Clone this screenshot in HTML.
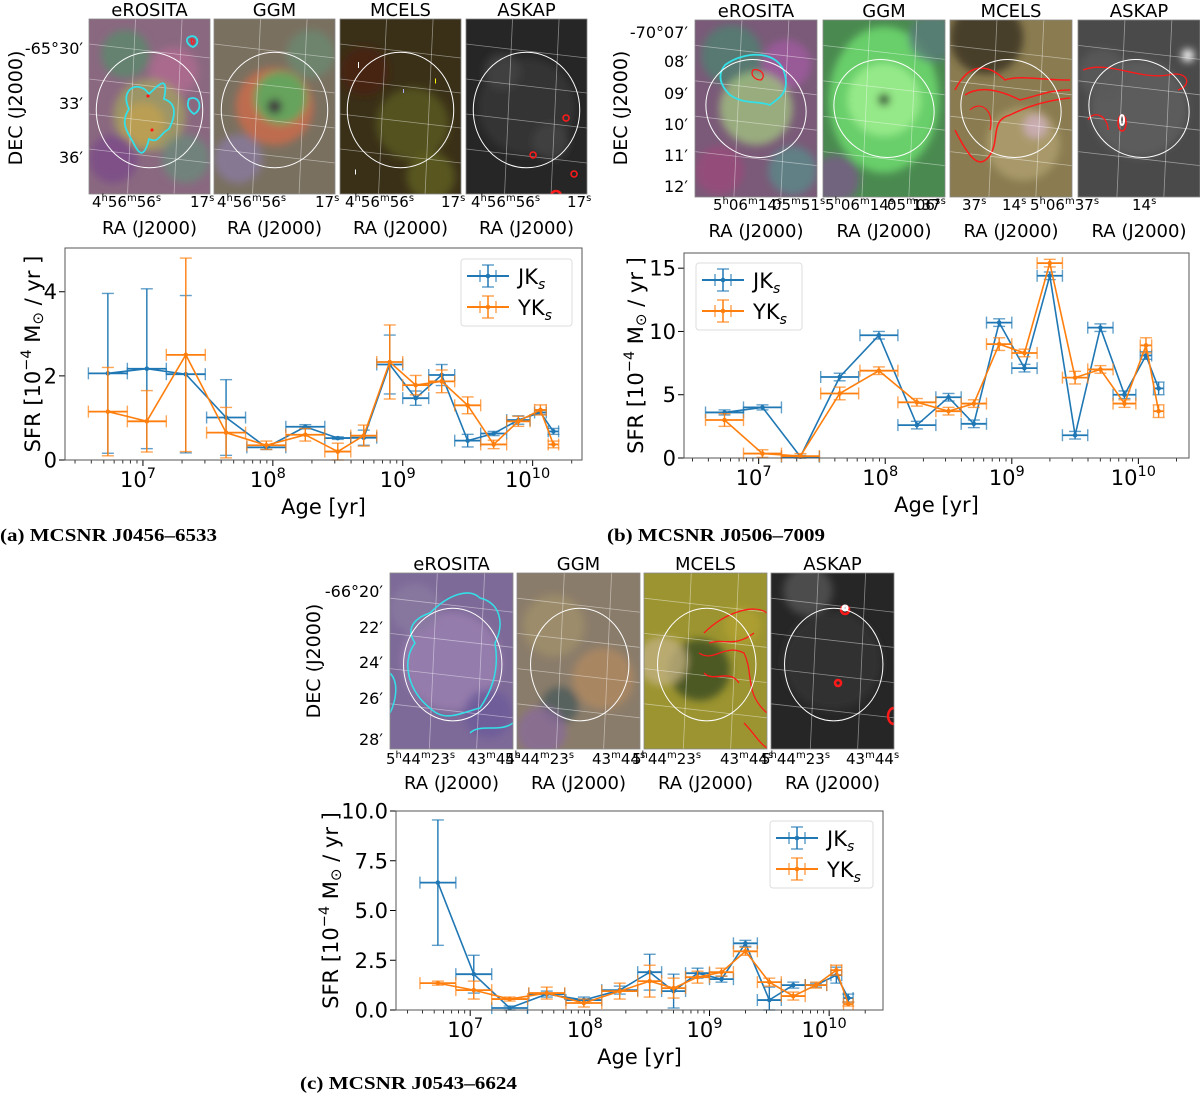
<!DOCTYPE html>
<html><head><meta charset="utf-8">
<style>
html,body{margin:0;padding:0;background:#fff;}
svg{display:block;font-family:"DejaVu Sans","Liberation Sans",sans-serif;}
</style></head>
<body>
<svg id="fig" width="1200" height="1098" viewBox="0 0 1200 1098" xmlns="http://www.w3.org/2000/svg">
<defs>
<filter id="blur3" x="-50%" y="-50%" width="200%" height="200%"><feGaussianBlur stdDeviation="4"/></filter>
</defs>
<g id="images"></g>
<g id="charts"></g>
<text x="0" y="541" font-family="Liberation Serif, serif" font-weight="bold" font-size="18" textLength="217" lengthAdjust="spacingAndGlyphs">(a) MCSNR J0456–6533</text>
<text x="607" y="541" font-family="Liberation Serif, serif" font-weight="bold" font-size="18" textLength="218" lengthAdjust="spacingAndGlyphs">(b) MCSNR J0506–7009</text>
<text x="300" y="1089" font-family="Liberation Serif, serif" font-weight="bold" font-size="18" textLength="217" lengthAdjust="spacingAndGlyphs">(c) MCSNR J0543–6624</text>
</svg>
<script>
// ---- chart data (log10 age bins shared by all panels) ----
const ageLog = [6.73, 7.03, 7.33, 7.64, 7.95, 8.25, 8.50, 8.70, 8.90, 9.10, 9.30, 9.50, 9.70, 9.89, 10.06, 10.16];
const ageErr = [0.15, 0.15, 0.15, 0.15, 0.15, 0.15, 0.10, 0.10, 0.10, 0.10, 0.10, 0.10, 0.10, 0.09, 0.045, 0.04];
const xTickLabels = ["7", "8", "9", "10"];

const aBlue = [2.06, 2.17, 2.04, 1.01, 0.30, 0.79, 0.52, 0.53, 2.27, 1.47, 2.02, 0.46, 0.63, 0.95, 1.13, 0.68];
const aBlueErr = [1.90, 1.90, 1.87, 0.90, 0.05, 0.05, 0.03, 0.18, 0.70, 0.17, 0.25, 0.15, 0.05, 0.10, 0.05, 0.07];
const aOrange = [1.15, 0.92, 2.50, 0.65, 0.35, 0.60, 0.20, 0.58, 2.33, 1.78, 1.87, 1.30, 0.37, 0.92, 1.19, 0.37];
const aOrangeErr = [1.05, 0.73, 2.30, 0.60, 0.10, 0.15, 0.20, 0.25, 0.88, 0.23, 0.27, 0.20, 0.10, 0.12, 0.12, 0.08];
const aYTicks = [0, 2, 4];

const bBlue = [3.6, 4.0, 0.1, 6.4, 9.7, 2.6, 4.8, 2.7, 10.7, 7.1, 14.4, 1.8, 10.3, 5.0, 8.1, 5.5];
const bBlueErr = [0.2, 0.2, 0.1, 0.3, 0.3, 0.3, 0.3, 0.3, 0.3, 0.3, 0.3, 0.3, 0.3, 0.3, 0.3, 0.5];
const bOrange = [3.0, 0.35, 0.15, 5.1, 6.9, 4.4, 3.7, 4.3, 9.0, 8.3, 15.4, 6.35, 7.0, 4.3, 8.9, 3.7];
const bOrangeErr = [0.5, 0.3, 0.2, 0.5, 0.3, 0.3, 0.3, 0.3, 0.5, 0.3, 0.3, 0.5, 0.3, 0.3, 0.6, 0.5];
const bYTicks = [0, 5, 10, 15];

const cBlue = [6.4, 1.8, 0.1, 0.8, 0.5, 1.0, 1.9, 0.95, 1.85, 1.55, 3.35, 0.5, 1.25, 1.25, 1.75, 0.6];
const cBlueErr = [3.15, 0.95, 0.1, 0.15, 0.15, 0.2, 0.9, 0.85, 0.25, 0.15, 0.15, 0.65, 0.15, 0.1, 0.4, 0.2];
const cOrange = [1.35, 1.0, 0.55, 0.85, 0.35, 0.95, 1.45, 1.1, 1.65, 1.9, 2.95, 1.4, 0.7, 1.25, 2.0, 0.3];
const cOrangeErr = [0.1, 0.45, 0.1, 0.3, 0.2, 0.4, 0.8, 0.5, 0.3, 0.2, 0.2, 0.2, 0.2, 0.15, 0.25, 0.1];
const cYTicks = [0, 2.5, 5, 7.5, 10];

const NS = "http://www.w3.org/2000/svg";
function el(tag, attrs, parent) {
  const e = document.createElementNS(NS, tag);
  for (const k in attrs) e.setAttribute(k, attrs[k]);
  if (parent) parent.appendChild(e);
  return e;
}
const BLUE = "#1f77b4", ORANGE = "#ff7f0e";

function drawChart(id, box, xmin, xmax, ymax, yTicks, yFmt, blue, blueErr, orange, orangeErr, legend) {
  const root = document.getElementById("charts");
  const g = el("g", {}, root);
  
  
  const X = v => box.x + (v - xmin) / (xmax - xmin) * box.w;
  const Y = v => box.y + box.h - v / ymax * box.h;
  for (let d = 6; d <= 10; d++) {
    for (let m = 2; m <= 9; m++) {
      const lv = d + Math.log10(m);
      if (lv < xmin || lv > xmax) continue;
      el("line", {x1: X(lv), x2: X(lv), y1: box.y + box.h, y2: box.y + box.h + 3.5, stroke: "#000", "stroke-width": 0.8}, g);
    }
  }
  xTickLabels.forEach(t => {
    const lv = +t;
    el("line", {x1: X(lv), x2: X(lv), y1: box.y + box.h, y2: box.y + box.h + 6, stroke: "#000", "stroke-width": 1}, g);
    const tx = el("text", {x: X(lv) - 5, y: box.y + box.h + 27, "font-size": 21, "text-anchor": "middle"}, g);
    
    
    tx.textContent = "10";
    const sup = el("tspan", {dy: -9, "font-size": 14.5}, tx);
    sup.textContent = t;
  });
  yTicks.forEach(v => {
    el("line", {x1: box.x - 6, x2: box.x, y1: Y(v), y2: Y(v), stroke: "#000", "stroke-width": 1}, g);
    const tx = el("text", {x: box.x - 8, y: Y(v) + 7.5, "font-size": 21, "text-anchor": "end"}, g);
    
    
    tx.textContent = yFmt(v);
  });
  const xl = el("text", {x: box.x + box.w / 2, y: box.y + box.h + 54, "font-size": 21, "text-anchor": "middle"}, g);
  
  
  xl.textContent = "Age [yr]";
  const ylx = box.ylx, yly = box.y + box.h / 2;
  const yl = el("text", {x: ylx, y: yly, "font-size": 21, "text-anchor": "middle", transform: `rotate(-90 ${ylx} ${yly})`}, g);
  
  
  yl.textContent = "SFR [10";
  const s1 = el("tspan", {dy: -9, "font-size": 14.5}, yl); s1.textContent = "−4";
  const s2 = el("tspan", {dy: 9}, yl); s2.textContent = " M";
  const s3 = el("tspan", {dy: 3, "font-size": 15}, yl); s3.textContent = "⊙";
  const s4 = el("tspan", {dy: -3}, yl); s4.textContent = "  / yr ]";

  function series(vals, errs, color, name) {
    const sg = el("g", {}, g);
    
    
    let d = "";
    vals.forEach((v, i) => { d += (i ? "L" : "M") + X(ageLog[i]).toFixed(1) + "," + Y(v).toFixed(1); });
    vals.forEach((v, i) => {
      const cx = X(ageLog[i]), cy = Y(v);
      const x0 = X(ageLog[i] - ageErr[i]), x1 = X(ageLog[i] + ageErr[i]);
      const y0 = Y(Math.max(0, v - errs[i])), y1 = Y(v + errs[i]);
      const eb = el("g", {stroke: color, "stroke-width": 1.4, fill: "none"}, sg);
      
      
      el("line", {x1: x0, x2: x1, y1: cy, y2: cy, "stroke-width": 1.8}, eb);
      el("line", {x1: cx, x2: cx, y1: y0, y2: y1}, eb);
      el("line", {x1: cx - 6, x2: cx + 6, y1: y0, y2: y0, "stroke-opacity": 0.7}, eb);
      el("line", {x1: cx - 6, x2: cx + 6, y1: y1, y2: y1, "stroke-opacity": 0.7}, eb);
      el("line", {x1: x0, x2: x0, y1: cy - 6, y2: cy + 6, "stroke-opacity": 0.7}, eb);
      el("line", {x1: x1, x2: x1, y1: cy - 6, y2: cy + 6, "stroke-opacity": 0.7}, eb);
    });
    const p = el("path", {d: d, stroke: color, "stroke-width": 1.6, fill: "none"}, sg);
    
    
    vals.forEach((v, i) => {
      const c = el("circle", {cx: X(ageLog[i]), cy: Y(v), r: 2.3, fill: color}, sg);
      
      
    });
  }
  series(blue, blueErr, BLUE, "jks");
  series(orange, orangeErr, ORANGE, "yks");
  const frame = el("rect", {x: box.x, y: box.y, width: box.w, height: box.h, fill: "none", stroke: "#555", "stroke-width": 1}, g);
  
  
  const lg = el("g", {}, g);
  
  
  el("rect", {x: legend.x, y: legend.y, width: legend.w, height: 67, rx: 3, fill: "#fff", stroke: "#ddd"}, lg);
  [["JK", BLUE, 0], ["YK", ORANGE, 1]].forEach(([lab, col, k]) => {
    const cy = legend.y + 17 + k * 31, cx = legend.x + 27;
    const le = el("g", {stroke: col, "stroke-width": 1.5}, lg);
    
    
    el("line", {x1: cx - 21, x2: cx + 21, y1: cy, y2: cy, "stroke-width": 2}, le);
    el("line", {x1: cx, x2: cx, y1: cy - 11, y2: cy + 11}, le);
    el("line", {x1: cx - 6, x2: cx + 6, y1: cy - 11, y2: cy - 11, "stroke-opacity": 0.7}, le);
    el("line", {x1: cx - 6, x2: cx + 6, y1: cy + 11, y2: cy + 11, "stroke-opacity": 0.7}, le);
    el("line", {x1: cx - 8, x2: cx - 8, y1: cy - 6, y2: cy + 6, "stroke-opacity": 0.7}, le);
    el("line", {x1: cx + 8, x2: cx + 8, y1: cy - 6, y2: cy + 6, "stroke-opacity": 0.7}, le);
    el("circle", {cx: cx, cy: cy, r: 2.3, fill: col, stroke: "none"}, le);
    const t = el("text", {x: legend.x + 57, y: cy + 8, "font-size": 21}, lg);
    t.textContent = lab;
    const sub = el("tspan", {dy: 5, "font-size": 14, "font-style": "italic"}, t); sub.textContent = "s";
  });
}

drawChart("a", {x: 65, y: 248, w: 517, h: 212, ylx: 40}, 6.40, 10.38, 5.04, aYTicks, v => String(v),
  aBlue, aBlueErr, aOrange, aOrangeErr, {x: 461, y: 259, w: 111});
drawChart("b", {x: 684, y: 253, w: 505, h: 205, ylx: 643}, 6.41, 10.40, 16.2, bYTicks, v => String(v),
  bBlue, bBlueErr, bOrange, bOrangeErr, {x: 696, y: 263, w: 106});
drawChart("c", {x: 396, y: 811, w: 487, h: 199, ylx: 338}, 6.38, 10.45, 10.0, cYTicks, v => v.toFixed(1),
  cBlue, cBlueErr, cOrange, cOrangeErr, {x: 770, y: 821, w: 103});

// ---- image panels ----
const imgRoot = document.getElementById("images");
let clipId = 0;
function panel(x, y, w, h, title, base, blobs, ellipse, contours, name) {
  const g = el("g", {}, imgRoot);
  
  
  const cid = "clip" + (clipId++);
  const cp = el("clipPath", {id: cid}, g);
  el("rect", {x: x, y: y, width: w, height: h}, cp);
  const inner = el("g", {"clip-path": `url(#${cid})`}, g);
  el("rect", {x: x, y: y, width: w, height: h, fill: base}, inner);
  const bl = el("g", {filter: "url(#blur3)"}, inner);
  blobs.forEach(b => el("ellipse", {cx: x + b[0] * w, cy: y + b[1] * h, rx: b[2] * w, ry: (b[4] || b[2]) * w, fill: b[3], "fill-opacity": b[5] || 0.8}, bl));
  for (let i = 1; i < 5; i++) el("line", {x1: x, x2: x + w, y1: y + i * h / 5 - 10, y2: y + i * h / 5 + 4, stroke: "#fff", "stroke-opacity": 0.45, "stroke-width": 0.8}, inner);
  for (let i = 1; i < 3; i++) el("line", {x1: x + i * w / 2.6, x2: x + i * w / 2.6 - 8, y1: y, y2: y + h, stroke: "#fff", "stroke-opacity": 0.45, "stroke-width": 0.8}, inner);
  contours.forEach(c => el("path", {d: c[0], fill: "none", stroke: c[1], "stroke-width": c[2] || 1.5, transform: `translate(${x},${y})`}, inner));
  const e = el("ellipse", {cx: x + ellipse[0] * w, cy: y + ellipse[1] * h, rx: ellipse[2] * w, ry: ellipse[3] * h, fill: "none", stroke: "#fff", "stroke-width": 1, transform: `rotate(${ellipse[4] || 0} ${x + ellipse[0] * w} ${y + ellipse[1] * h})`}, inner);
  
  
  el("rect", {x: x, y: y, width: w, height: h, fill: "none", stroke: "#888", "stroke-width": 0.8}, g);
  const t = el("text", {x: x + w / 2, y: y - 3, "font-size": 18, "text-anchor": "middle"}, g);
  
  
  t.textContent = title;
  const ra = el("text", {x: x + w / 2, y: y + h + 40, "font-size": 18, "text-anchor": "middle"}, g);
  
  
  ra.textContent = "RA (J2000)";
}
function txt(x, y, s, size, anchor, name, rot) {
  const t = el("text", {x: x, y: y, "font-size": size, "text-anchor": anchor || "start"}, imgRoot);
  if (rot) t.setAttribute("transform", `rotate(-90 ${x} ${y})`);
  
  
  t.textContent = s;
}
function hms(x, y, h, m, s) {
  const t = el("text", {x: x, y: y, "font-size": 15}, imgRoot);
  
  
  const add = (str, sup) => { const sp = el("tspan", sup ? {dy: -6, "font-size": 10} : {dy: 6}, t); sp.textContent = str; };
  const first = el("tspan", {}, t);
  if (h) { first.textContent = h; add("h", 1); add(m, 0); add("m", 1); add(s, 0); add("s", 1); }
  else if (m) { first.textContent = m; add("m", 1); add(s, 0); add("s", 1); }
  else { first.textContent = s; add("s", 1); }
}

const CY = "#33e0e8", RD = "#ff1a1a";
const ay = 19, ah = 175, aw = 121;
panel(89, ay, aw, ah, "eROSITA", "#8a6880",
  [[0.3,0.2,0.2,"#5a8a6a"],[0.7,0.3,0.2,"#b06a90"],[0.5,0.55,0.3,"#a0a060"],[0.2,0.8,0.2,"#7a4a8a"],[0.8,0.8,0.2,"#6a8a7a"],[0.45,0.6,0.18,"#c0a050"]],
  [0.5,0.52,0.44,0.33], [["M40,90 C30,70 50,60 60,75 C70,65 80,55 75,80 C90,85 85,100 80,110 C70,115 70,125 60,120 C55,140 50,135 45,125 C40,115 30,105 40,90Z",CY,1.8],["M100,80 C110,75 115,90 105,95 C98,90 98,85 100,80Z",CY,1.8],["M58,76 L60,78",RD,3],["M62,110 L64,112",RD,3],["M100,18 C108,14 112,25 104,28 C98,26 96,20 100,18Z",CY,1.8],["M102,20 C106,20 106,25 103,25Z",RD,1.2]], "img-a-erosita");
panel(214, ay, aw, ah, "GGM", "#7a7060",
  [[0.5,0.5,0.32,"#d06a4a"],[0.55,0.45,0.22,"#50b060"],[0.5,0.5,0.06,"#403040",0,1],[0.2,0.8,0.2,"#8a7aa0"],[0.8,0.2,0.2,"#6a8a70"]],
  [0.5,0.52,0.44,0.33], [], "img-a-ggm");
panel(340, ay, aw, ah, "MCELS", "#3a3018",
  [[0.6,0.6,0.3,"#5a5a20"],[0.2,0.3,0.2,"#4a2010"],[0.75,0.9,0.2,"#606020"]],
  [0.5,0.52,0.44,0.33], [["M18,46 L19,46",  "#fff",6],["M95,62 L96,62","#ff0",5],["M63,72 L64,72","#aaf",4],["M15,153 L16,153","#fff",5]], "img-a-mcels");
panel(466, ay, aw, ah, "ASKAP", "#262626",
  [[0.5,0.5,0.4,"#3a3a3a"],[0.3,0.3,0.15,"#444"],[0.7,0.7,0.15,"#444"]],
  [0.5,0.52,0.44,0.33], [["M100,96 a3,3 0 1,0 0.1,0",RD,1.5],["M67,133 a3,3 0 1,0 0.1,0",RD,1.5],["M108,152 a3,3 0 1,0 0.1,0",RD,1.5],["M90,172 a5,5 0 1,0 0.1,0",RD,2.5]], "img-a-askap");
txt(83, 54, "-65°30′", 16, "end", "dec-tick-label");
txt(83, 109, "33′", 16, "end", "dec-tick-label");
txt(83, 163, "36′", 16, "end", "dec-tick-label");
txt(22, 108, "DEC (J2000)", 19, "middle", "dec-axis-title", true);
hms(92, 207, "4", "56", "56"); hms(190, 207, null, null, "17");
hms(217, 207, "4", "56", "56"); hms(315, 207, null, null, "17");
hms(345, 207, "4", "56", "56"); hms(441, 207, null, null, "17");
hms(471, 207, "4", "56", "56"); hms(567, 207, null, null, "17");

const by = 20, bh = 177, bw = 122;
panel(695, by, bw, bh, "eROSITA", "#7a5a78",
  [[0.3,0.2,0.25,"#508070"],[0.75,0.25,0.2,"#a05aa0"],[0.5,0.5,0.3,"#a0c080"],[0.2,0.85,0.2,"#9a4a7a"],[0.8,0.85,0.2,"#5a8a8a"]],
  [0.5,0.5,0.42,0.27,35], [["M30,45 C50,30 85,30 90,55 C95,75 80,80 75,85 C60,80 50,85 35,75 C25,65 22,55 30,45Z",CY,1.8],["M58,50 C65,48 72,55 66,60 C60,60 55,55 58,50Z",RD,1.3]], "img-b-erosita");
panel(823, by, bw, bh, "GGM", "#4a8a50",
  [[0.5,0.45,0.45,"#70e070",0.6],[0.5,0.45,0.3,"#a0f090"],[0.5,0.45,0.05,"#304030",0,1],[0.1,0.9,0.2,"#7a5a8a"],[0.9,0.1,0.2,"#5a7a7a"]],
  [0.5,0.5,0.42,0.27,35], [], "img-b-ggm");
panel(950, by, bw, bh, "MCELS", "#8a7c50",
  [[0.3,0.1,0.3,"#3a3020"],[0.6,0.7,0.3,"#b0a070"],[0.7,0.6,0.1,"#d0b0c0"]],
  [0.5,0.5,0.42,0.27,35], [["M5,70 C20,40 40,45 55,60 C70,55 90,60 120,60 M5,110 C20,140 30,150 40,135 C50,120 40,100 60,95 C80,85 100,80 120,78",RD,1.5],["M15,75 C30,65 50,70 70,80 C90,75 100,70 120,70",RD,1.5],["M20,90 C30,80 45,90 40,110",RD,1.2]], "img-b-mcels");
panel(1078, by, bw, bh, "ASKAP", "#4a4a4a",
  [[0.5,0.5,0.4,"#606060"],[0.2,0.3,0.2,"#5a5a5a"],[0.9,0.2,0.05,"#fff",0,1]],
  [0.5,0.5,0.42,0.27,35], [["M5,50 C30,40 60,60 90,55 C110,50 115,65 100,70 M10,100 C15,90 30,95 30,110",RD,1.3],["M44,95 a4,8 0 1,0 0.1,0",RD,1.5],["M44,95 a2,5 0 1,0 0.1,0","#fff",2]], "img-b-askap");
txt(688, 38, "-70°07′", 16, "end", "dec-tick-label");
txt(688, 67, "08′", 16, "end", "dec-tick-label");
txt(688, 99, "09′", 16, "end", "dec-tick-label");
txt(688, 130, "10′", 16, "end", "dec-tick-label");
txt(688, 161, "11′", 16, "end", "dec-tick-label");
txt(688, 192, "12′", 16, "end", "dec-tick-label");
txt(627, 108, "DEC (J2000)", 19, "middle", "dec-axis-title", true);
hms(713, 210, "5", "06", "14"); hms(772, 210, null, "05", "51");
hms(825, 210, "5", "06", "14"); hms(887, 210, null, "05", "06");
hms(912, 210, null, null, "137");
hms(962, 210, null, null, "37"); hms(1002, 210, null, null, "14");
hms(1030, 210, "5", "06", "37"); hms(1132, 210, null, null, "14");

const cy0 = 573, ch = 176, cw = 123;
panel(390, cy0, cw, ch, "eROSITA", "#7e6a98",
  [[0.5,0.5,0.4,"#9a80b0"],[0.2,0.2,0.2,"#8a7aa0"],[0.8,0.8,0.2,"#6a5a9a"]],
  [0.51,0.52,0.4,0.32], [["M40,40 C60,20 80,15 90,25 C110,30 115,50 105,70 C110,100 100,120 90,135 C70,140 55,150 40,135 C20,120 10,90 25,70 C15,55 25,45 40,40Z",CY,1.5],["M0,100 C10,110 5,130 0,140 M80,160 C90,150 110,160 123,150",CY,1.5]], "img-c-erosita");
panel(517, cy0, cw, ch, "GGM", "#8a7c6a",
  [[0.3,0.3,0.25,"#a0906a"],[0.7,0.6,0.25,"#b08a60"],[0.35,0.75,0.15,"#4a5a5a"],[0.2,0.9,0.2,"#8a6a9a"]],
  [0.51,0.52,0.4,0.32], [], "img-c-ggm");
panel(644, cy0, cw, ch, "MCELS", "#9c9430",
  [[0.45,0.55,0.25,"#3a4a20"],[0.15,0.5,0.2,"#c0b080"],[0.8,0.3,0.15,"#b0a030"]],
  [0.51,0.52,0.4,0.32], [["M60,60 C80,40 110,30 123,40 M55,80 C70,90 80,70 100,80 C110,100 100,120 123,140 M60,100 C70,110 85,95 95,110 M100,150 C110,160 115,170 123,175 M65,70 C80,65 90,75 110,60",RD,1.3]], "img-c-mcels");
panel(771, cy0, cw, ch, "ASKAP", "#262626",
  [[0.5,0.5,0.4,"#363636"],[0.3,0.1,0.2,"#555"]],
  [0.51,0.52,0.4,0.32], [["M74,33 a4,4 0 1,0 0.1,0",RD,2.5],["M74,33 a2,2 0 1,0 0.1,0","#fff",3],["M67,107 a3,3 0 1,0 0.1,0",RD,2.5],["M123,135 a6,8 0 1,0 0.1,0",RD,2.5]], "img-c-askap");
txt(383, 597, "-66°20′", 16, "end", "dec-tick-label");
txt(383, 633, "22′", 16, "end", "dec-tick-label");
txt(383, 668, "24′", 16, "end", "dec-tick-label");
txt(383, 704, "26′", 16, "end", "dec-tick-label");
txt(383, 745, "28′", 16, "end", "dec-tick-label");
txt(320, 661, "DEC (J2000)", 19, "middle", "dec-axis-title", true);
hms(386, 764, "5", "44", "23"); hms(467, 764, null, "43", "44");
hms(505, 764, "5", "44", "23"); hms(592, 764, null, "43", "44");
hms(632, 764, "5", "44", "23"); hms(720, 764, null, "43", "44");
hms(761, 764, "5", "44", "23"); hms(846, 764, null, "43", "44");
</script>
</body></html>
